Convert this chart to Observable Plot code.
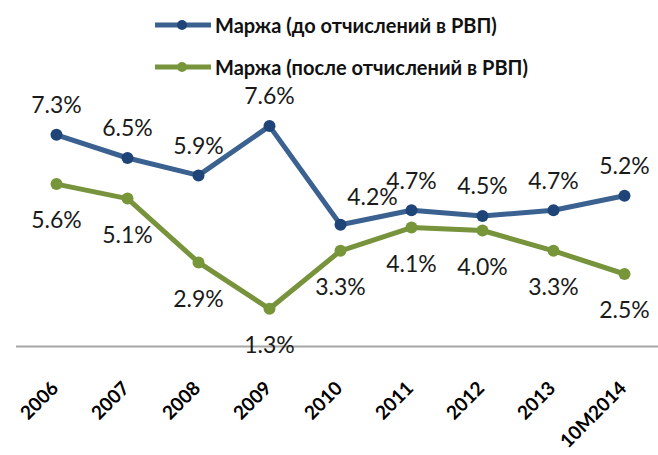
<!DOCTYPE html>
<html>
<head>
<meta charset="utf-8">
<script src="https://cdn.jsdelivr.net/npm/d3@7"></script>
<script src="https://cdn.jsdelivr.net/npm/@observablehq/plot@0.6"></script>
<style>
  body { margin: 0; background: #fff; }
  #wrap { position: relative; width: 658px; height: 455px; overflow: hidden; }
  .leg { position: absolute; left: 155px; height: 24px; display: flex; align-items: center;
         font-family: Lato, "Open Sans", sans-serif; font-weight: 700; font-size: 20px; color: #111; white-space: nowrap; }
  .leg svg { margin-right: 4px; }
</style>
</head>
<body>
<div id="wrap"></div>
<script>
const categories = ["2006", "2007", "2008", "2009", "2010", "2011", "2012", "2013", "10M2014"];
const marginBefore = [7.3, 6.5, 5.9, 7.6, 4.2, 4.7, 4.5, 4.7, 5.2];
const marginAfter = [5.6, 5.1, 2.9, 1.3, 3.3, 4.1, 4.0, 3.3, 2.5];
const seriesNames = ["Маржа (до отчислений в РВП)", "Маржа (после отчислений в РВП)"];

const blueLine = "#3a6190", blueDot = "#1f4578";
const greenLine = "#77933c", greenDot = "#77963a";

const before = categories.map((c, i) => ({cat: c, v: marginBefore[i], i}));
const after = categories.map((c, i) => ({cat: c, v: marginAfter[i], i}));
const fmt = v => v.toFixed(1) + "%";

const labelFont = {fontFamily: "Lato, 'Open Sans', sans-serif", fontSize: 23, fill: "#1a1a1a"};

const chart = Plot.plot({
  width: 658,
  height: 455,
  marginLeft: 16,
  marginRight: 0,
  marginTop: 114,
  marginBottom: 109,
  x: {type: "point", domain: categories, range: [52, 627], padding: 0, axis: null},
  y: {domain: [0, 8], axis: null},
  style: {background: "transparent", overflow: "visible"},
  marks: [
    Plot.ruleY([0], {stroke: "#a6a6a6", strokeWidth: 2}),
    Plot.line(before, {x: "cat", y: "v", stroke: blueLine, strokeWidth: 5}),
    Plot.line(after, {x: "cat", y: "v", stroke: greenLine, strokeWidth: 5}),
    Plot.dot(before, {x: "cat", y: "v", r: 6, fill: blueDot}),
    Plot.dot(after, {x: "cat", y: "v", r: 6, fill: greenDot}),
    Plot.text(before.filter(d => d.i !== 4), {x: "cat", y: "v", text: d => fmt(d.v), dy: -29, ...labelFont}),
    Plot.text(before.filter(d => d.i === 4), {x: "cat", y: "v", text: d => fmt(d.v), dy: -27, dx: 32, ...labelFont}),
    Plot.text(after, {x: "cat", y: "v", text: d => fmt(d.v), dy: 37, ...labelFont}),
    Plot.text(categories, {x: d => d, frameAnchor: "bottom", text: d => d, rotate: -45, textAnchor: "end",
      lineAnchor: "bottom", dx: 3, dy: 43, fontFamily: "Lato, 'Open Sans', sans-serif", fontWeight: 700, fontSize: 19, fill: "#000"})
  ]
});

const wrap = document.getElementById("wrap");
wrap.appendChild(chart);

const legendItems = [
  {name: seriesNames[0], line: blueLine, dot: blueDot, cy: 25},
  {name: seriesNames[1], line: greenLine, dot: greenDot, cy: 67}
];
for (const it of legendItems) {
  const div = document.createElement("div");
  div.className = "leg";
  div.style.top = (it.cy - 12) + "px";
  div.innerHTML = `<svg width="56" height="24"><line x1="0" y1="12" x2="56" y2="12" stroke="${it.line}" stroke-width="5"/><circle cx="27" cy="12" r="5" fill="${it.dot}"/></svg><span>${it.name}</span>`;
  wrap.appendChild(div);
}
</script>
</body>
</html>
